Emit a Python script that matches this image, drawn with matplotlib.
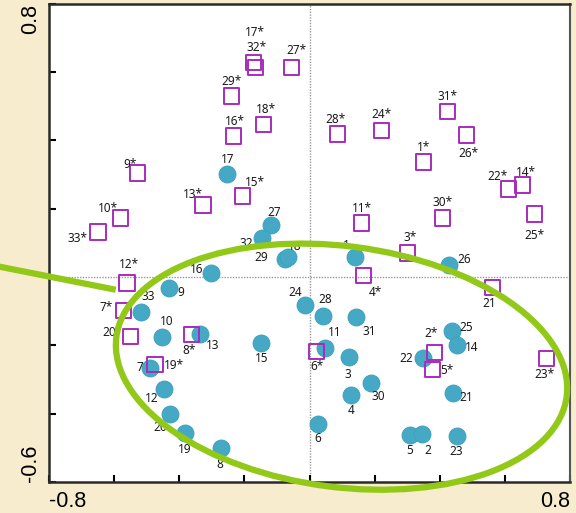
import matplotlib
matplotlib.use("Agg")
import matplotlib.pyplot as plt
from matplotlib.patches import Ellipse

# objects (circles) on the first two dimensions
obj_names = ['17', '27', '32', '29', '18', '16', '1', '26', '9', '33', '10', '13', '7',
             '12', '20', '19', '8', '15', '24', '28', '31', '11', '3', '30', '4', '6',
             '22', '25', '14', '21', '5', '2', '23']
obj_x = [-0.252, -0.120, -0.147, -0.077, -0.067, -0.304, 0.138, 0.429, -0.433, -0.518,
         -0.454, -0.337, -0.491, -0.448, -0.429, -0.383, -0.273, -0.150, -0.015, 0.040,
         0.141, 0.046, 0.120, 0.187, 0.126, 0.025, 0.347, 0.436, 0.451, 0.439, 0.307,
         0.344, 0.451]
obj_y = [0.301, 0.152, 0.115, 0.053, 0.059, 0.013, 0.059, 0.036, -0.031, -0.101,
         -0.174, -0.165, -0.267, -0.326, -0.401, -0.457, -0.501, -0.194, -0.081, -0.113,
         -0.116, -0.206, -0.235, -0.311, -0.346, -0.431, -0.238, -0.159, -0.200, -0.340,
         -0.463, -0.460, -0.466]

# variables (squares)
var_names = ['17*', '32*', '27*', '29*', '18*', '16*', '9*', '15*', '13*', '10*', '33*',
             '28*', '24*', '31*', '26*', '1*', '22*', '14*', '25*', '11*', '30*', '3*',
             '4*', '21', '12*', '7*', '20', '8*', '19*', '6*', '2*', '5*', '23*']
var_x = [-0.172, -0.166, -0.055, -0.239, -0.141, -0.233, -0.528, -0.206, -0.328, -0.580,
         -0.650, 0.086, 0.221, 0.423, 0.482, 0.350, 0.610, 0.653, 0.690, 0.160, 0.408,
         0.301, 0.166, 0.561, -0.561, -0.571, -0.549, -0.362, -0.475, 0.021, 0.383,
         0.377, 0.727]
var_y = [0.628, 0.613, 0.613, 0.529, 0.447, 0.412, 0.304, 0.237, 0.211, 0.173, 0.132,
         0.418, 0.429, 0.485, 0.415, 0.336, 0.257, 0.269, 0.185, 0.158, 0.173, 0.071,
         0.004, -0.031, -0.017, -0.098, -0.174, -0.168, -0.256, -0.218, -0.221, -0.270,
         -0.238]

# label offsets in pixels
obj_off = [(0, 15), (4, 13), (-15, -6), (-23, 1), (7, 10), (-14, 3), (-8, 11), (15, 5),
           (12, -5), (7, 15), (5, 15), (13, -12), (-10, 1), (-12, -10), (-10, -13),
           (0, -16), (-1, -16), (1, -15), (-10, 12), (3, 16), (14, -15), (10, 15),
           (-1, -17), (8, -13), (0, -15), (0, -14), (-16, 0), (15, 4), (15, -2),
           (14, -4), (0, -15), (6, -16), (0, -15)]
var_off = [(1, 30), (1, 20), (5, 17), (0, 15), (2, 15), (1, 15), (-8, 9), (12, 14),
           (-10, 10), (-13, 9), (-20, -7), (-2, 15), (0, 16), (0, 15), (2, -18), (0, 15),
           (-11, 13), (4, 13), (0, -22), (0, 15), (0, 15), (2, 15), (12, -17), (-3, -16),
           (2, 18), (-17, 3), (-21, 4), (-3, -16), (19, -1), (1, -15), (-3, 19),
           (14, -1), (-2, -16)]

bg = '#F7ECCE'
green = '#92C817'

fig = plt.figure(figsize=(5.76, 5.13), dpi=100, facecolor=bg)
ax = fig.add_axes([0.085, 0.060, 0.905, 0.933])
ax.set_facecolor('white')

ax.axhline(0, color='#999999', lw=1, ls=(0, (1, 1)), zorder=1)
ax.axvline(0, color='#999999', lw=1, ls=(0, (1, 1)), zorder=1)

ax.scatter(obj_x, obj_y, s=150, color='#45A9C5', edgecolors='#3C9FBB',
           linewidths=0.6, zorder=3)
ax.scatter(var_x, var_y, s=125, marker='s', facecolors='none',
           edgecolors='#A82CBC', linewidths=1.4, zorder=4)

for name, x, y, off in zip(obj_names, obj_x, obj_y, obj_off):
    ax.annotate(name, (x, y), xytext=off, textcoords='offset pixels',
                ha='center', va='center', fontsize=8.5, family='Noto Sans',
                color='#1a1a1a', zorder=4)
for name, x, y, off in zip(var_names, var_x, var_y, var_off):
    ax.annotate(name, (x, y), xytext=off, textcoords='offset pixels',
                ha='center', va='center', fontsize=8.5, family='Noto Sans',
                color='#1a1a1a', zorder=4)

# highlighted group + pointer
ell = Ellipse((0.098, -0.262), width=1.393, height=0.705, angle=-7, fill=False,
              edgecolor=green, lw=4.5, clip_on=False, zorder=6)
ax.add_patch(ell)
ax.plot([-0.96, -0.595], [0.032, -0.037], color=green, lw=4.5,
        solid_capstyle='butt', clip_on=False, zorder=6)

ax.set_xlim(-0.8, 0.8)
ax.set_ylim(-0.6, 0.8)
xt = [-0.8, -0.6, -0.4, -0.2, 0.0, 0.2, 0.4, 0.6, 0.8]
yt = [-0.6, -0.4, -0.2, 0.0, 0.2, 0.4, 0.6, 0.8]
ax.set_xticks(xt)
ax.set_xticklabels(['-0.8'] + [''] * 7 + ['0.8'])
ax.set_yticks(yt)
ax.set_yticklabels(['-0.6'] + [''] * 6 + ['0.8'], rotation=90)
ax.tick_params(direction='in', length=5, width=1.5, labelsize=15.5, pad=6)
for lab in ax.get_xticklabels() + ax.get_yticklabels():
    lab.set_family('Liberation Sans')
xl = ax.get_xticklabels()
xl[0].set_ha('left')
xl[-1].set_ha('right')
yl = ax.get_yticklabels()
yl[0].set_va('bottom')
yl[-1].set_va('top')

for side in ['left', 'bottom', 'top']:
    ax.spines[side].set_linewidth(1.8)
    ax.spines[side].set_color('#2a2a2a')
ax.spines['right'].set_linewidth(1.5)
ax.spines['right'].set_color('#555555')

fig.savefig('out.png', dpi=100, facecolor=bg)
